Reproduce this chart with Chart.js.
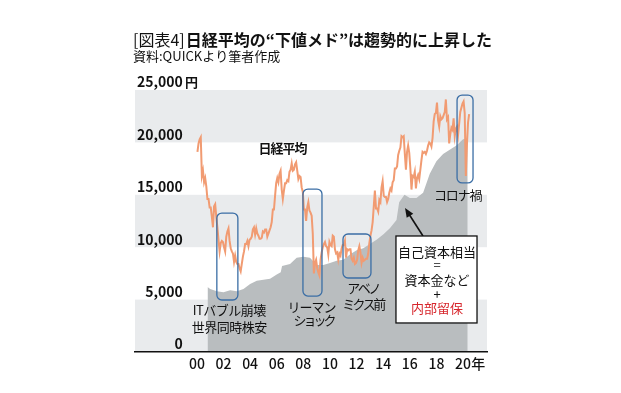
<!DOCTYPE html>
<html lang="ja">
<head>
<meta charset="utf-8">
<title>日経平均の下値メド</title>
<script src="https://cdn.jsdelivr.net/npm/chart.js@4.4.1/dist/chart.umd.min.js"></script>
<style>
  html, body { margin: 0; padding: 0; background: #fff; }
  #wrap { width: 621px; height: 393px; }
</style>
</head>
<body>
<div id="wrap"><canvas id="chart" width="621" height="393"></canvas></div>
<script>
// 日経平均 (円), one value per month, Jan 2000 - Jun 2020
const NIKKEI_START = 2000;
const nikkeiMonthly = [
    19100, 19900, 20300, 20500, 16800, 17300, 16200, 16600, 15800, 14600, 14600, 13800, // 2000
    13800, 12900, 11900, 13900, 14100, 12900, 11900, 10700, 9600, 10400, 10600, 10500,   // 2001
    10000, 9600, 11000, 11500, 11800, 10600, 9900, 9600, 9400, 8600, 9200, 8600,         // 2002
    8400, 8400, 8000, 7700, 8400, 9100, 9600, 10300, 10300, 10600, 10100, 10700,         // 2003
    10800, 11000, 11700, 11900, 11200, 11800, 11300, 11100, 10800, 10800, 10900, 11500,  // 2004
    11400, 11700, 11700, 11000, 11300, 11600, 11900, 12400, 13600, 13600, 14900, 16100,  // 2005
    16600, 16200, 17000, 17300, 15500, 14600, 15400, 16100, 16100, 16400, 16300, 17200,  // 2006
    17400, 18000, 17300, 17400, 17900, 18100, 17300, 16500, 16800, 16700, 15700, 15300,  // 2007
    13600, 13600, 12500, 13800, 14300, 13500, 13300, 13000, 11300, 7500, 8500, 8800,     // 2008
    8000, 7600, 7300, 8800, 9500, 10000, 10300, 10500, 10100, 10000, 9300, 10500,        // 2009
    10200, 10100, 11100, 11000, 9800, 9400, 9500, 8800, 9400, 9200, 9900, 10200,         // 2010
    10200, 10600, 9000, 9800, 9700, 9800, 9800, 8900, 8700, 9000, 8400, 8500,            // 2011
    8800, 9700, 10100, 9500, 8500, 9000, 8700, 8800, 8900, 8900, 9400, 10400,            // 2012
    11100, 11600, 12400, 13900, 15400, 13700, 13700, 13400, 14500, 14300, 15700, 16300,  // 2013
    14900, 14800, 14800, 14300, 14600, 15200, 15600, 15400, 16200, 16400, 17500, 17500,  // 2014
    17700, 18800, 19200, 19500, 20600, 20500, 20600, 18900, 17400, 19100, 19700, 19000,  // 2015
    17500, 15500, 16800, 16700, 17200, 15600, 16600, 16900, 16500, 17400, 18300, 19100,  // 2016
    19000, 19100, 18900, 19200, 19700, 20000, 19900, 19600, 20400, 22000, 22700, 22800,  // 2017
    23800, 22100, 21500, 22500, 22200, 22300, 22600, 22900, 24100, 22200, 22400, 19900,  // 2018
    20800, 21400, 21200, 22300, 20600, 21300, 21500, 20700, 21800, 22900, 23300, 23700,  // 2019
    23900, 22800, 16800, 19800, 21900, 22700                                             // 2020
];

// 自己資本相当 (book value)
const bookYears = [
    2000.8, 2001.0, 2001.5, 2002.0, 2002.5, 2003.0, 2003.5, 2004.0, 2004.5, 2005.0,
    2005.5, 2006.0, 2006.3, 2006.4, 2007.0, 2007.5, 2008.0, 2008.5, 2009.0, 2009.5,
    2010.0, 2010.5, 2011.0, 2011.5, 2012.0, 2012.5, 2013.0, 2013.5, 2014.0, 2014.5,
    2015.0, 2015.2, 2015.6, 2016.0, 2016.5, 2017.0, 2017.5, 2018.0, 2018.5, 2019.0,
    2019.5, 2020.0, 2020.35
];
const bookValues = [
    6200, 6000, 5800, 5700, 5900, 5800, 6000, 6500, 6800, 6900,
    7000, 7400, 7600, 8200, 8400, 9000, 9100, 9000, 8300, 8300,
    8500, 8700, 8800, 9300, 9700, 9900, 10300, 10700, 11200, 11800,
    12600, 14300, 15000, 14700, 14700, 15200, 17000, 18200, 18900, 19300,
    19700, 20300, 20400
];

// axes
const yTickValues = [0, 5000, 10000, 15000, 20000, 25000];
const xTickYears = [2000, 2002, 2004, 2006, 2008, 2010, 2012, 2014, 2016, 2018, 2020];
const YEAR_UNIT = '年';
const YEAR_UNIT_POS = 2021.15;
const bandRanges = [[0, 5000], [10000, 15000], [20000, 25000]];

// event boxes: [from year, to year, low, high]
const eventBoxes = [
    [2001.50, 2003.08, 4960, 13260],
    [2007.97, 2009.40, 5340, 15550],
    [2010.98, 2013.08, 7060, 11260],
    [2019.55, 2020.75, 16130, 24520]
];
// labels: [text, year, value, bold, letter spacing]
const eventLabels = [
    ['日経平均', 2006.39, 19500, true, -1],
    ['ITバブル崩壊', 2002.41, 4000, false, -0.5],
    ['世界同時株安', 2002.41, 2390, false, -0.5],
    ['リーマン', 2008.57, 4290, false, -1],
    ['ショック', 2008.65, 3050, false, -3],
    ['アベノ', 2012.41, 6110, false, -2.3],
    ['ミクス前', 2012.37, 4580, false, -2.7],
    ['コロナ禍', 2019.55, 14980, false, -1.2]
];
// 自己資本相当 box
const noteBox = [2014.96, 2021.05, 2770, 11070];
const noteLines = [
    ['自己資本相当', 9540, '#111'],
    ['=', 8300, '#111'],
    ['資本金など', 6870, '#111'],
    ['+', 5530, '#111'],
    ['内部留保', 4200, '#d7262c']
];
const NOTE_CENTER_YEAR = 2018.05;
const arrowFrom = [2016.99, 11070];
const arrowTo = [2015.64, 13740];

const FONT = '"Noto Sans CJK JP", "Noto Sans", sans-serif';
const BAND_COLOR = '#e9ebed';
const BOOK_COLOR = '#b9bdbf';
const LINE_COLOR = '#f19b72';
const BOX_COLOR = '#3b6ea5';

const nikkeiPoints = nikkeiMonthly.map((v, i) => ({ x: NIKKEI_START + (i + 0.5) / 12, y: v }));
const bookPoints = bookYears.map((x, i) => ({ x: x, y: bookValues[i] }));

const bandsPlugin = {
    id: 'bands',
    beforeDatasetsDraw(chart) {
        const { ctx, chartArea: a, scales: { y } } = chart;
        ctx.save();
        ctx.fillStyle = BAND_COLOR;
        bandRanges.forEach(([lo, hi]) => {
            const top = y.getPixelForValue(hi);
            const bot = y.getPixelForValue(lo);
            ctx.fillRect(a.left, top, a.right - a.left, bot - top);
        });
        ctx.restore();
    }
};

const notesPlugin = {
    id: 'notes',
    afterDatasetsDraw(chart) {
        const { ctx, scales: { x, y } } = chart;
        ctx.save();

        ctx.strokeStyle = BOX_COLOR;
        ctx.lineWidth = 1.3;
        eventBoxes.forEach(([from, to, lo, hi]) => {
            const x0 = x.getPixelForValue(from), x1 = x.getPixelForValue(to);
            const y0 = y.getPixelForValue(hi), y1 = y.getPixelForValue(lo);
            ctx.beginPath();
            ctx.roundRect(x0, y0, x1 - x0, y1 - y0, 5);
            ctx.stroke();
        });

        ctx.textAlign = 'center';
        ctx.textBaseline = 'middle';
        ctx.fillStyle = '#111';
        eventLabels.forEach(([text, yr, val, bold, spacing]) => {
            ctx.font = (bold ? 'bold ' : '') + '13px ' + FONT;
            ctx.letterSpacing = spacing + 'px';
            ctx.fillText(text, x.getPixelForValue(yr) - spacing / 2, y.getPixelForValue(val));
        });
        ctx.letterSpacing = '0px';

        // arrow towards the grey area
        const ax0 = x.getPixelForValue(arrowFrom[0]), ay0 = y.getPixelForValue(arrowFrom[1]);
        const ax1 = x.getPixelForValue(arrowTo[0]), ay1 = y.getPixelForValue(arrowTo[1]);
        const ang = Math.atan2(ay1 - ay0, ax1 - ax0);
        ctx.strokeStyle = '#111';
        ctx.lineWidth = 1.6;
        ctx.beginPath();
        ctx.moveTo(ax0, ay0);
        ctx.lineTo(ax1 - 6 * Math.cos(ang), ay1 - 6 * Math.sin(ang));
        ctx.stroke();
        ctx.beginPath();
        ctx.moveTo(ax1, ay1);
        ctx.lineTo(ax1 - 10 * Math.cos(ang - 0.4), ay1 - 10 * Math.sin(ang - 0.4));
        ctx.lineTo(ax1 - 10 * Math.cos(ang + 0.4), ay1 - 10 * Math.sin(ang + 0.4));
        ctx.closePath();
        ctx.fill();

        // note box
        const bx0 = x.getPixelForValue(noteBox[0]), bx1 = x.getPixelForValue(noteBox[1]);
        const by0 = y.getPixelForValue(noteBox[3]), by1 = y.getPixelForValue(noteBox[2]);
        ctx.fillStyle = '#fff';
        ctx.fillRect(bx0, by0, bx1 - bx0, by1 - by0);
        ctx.lineWidth = 1.3;
        ctx.strokeRect(bx0, by0, bx1 - bx0, by1 - by0);
        ctx.font = '13px ' + FONT;
        const cx = x.getPixelForValue(NOTE_CENTER_YEAR);
        noteLines.forEach(([text, val, color]) => {
            ctx.fillStyle = color;
            ctx.fillText(text, cx, y.getPixelForValue(val));
        });
        ctx.restore();
    },
    afterDraw(chart) {
        const { ctx, scales: { y } } = chart;
        ctx.save();
        ctx.fillStyle = '#111';
        ctx.textBaseline = 'middle';
        ctx.textAlign = 'left';
        ctx.font = '16px ' + FONT;
        const head = '[図表4]';
        ctx.fillText(head, 133, 40);
        const w = ctx.measureText(head).width;
        ctx.font = 'bold 16px ' + FONT;
        ctx.fillText('日経平均の“下値メド”は趨勢的に上昇した', 133 + w + 1, 40);
        ctx.font = '13px ' + FONT;
        ctx.fillText('資料:QUICKより筆者作成', 133, 56);
        // unit after the top tick
        ctx.font = 'bold 13px ' + FONT;
        ctx.fillText('円', 185, y.getPixelForValue(25000) - 8);
        ctx.restore();
    }
};

new Chart(document.getElementById('chart'), {
    type: 'line',
    data: {
        datasets: [{
            label: '日経平均',
            data: nikkeiPoints,
            borderColor: LINE_COLOR,
            borderWidth: 2,
            pointRadius: 0,
            tension: 0,
            fill: false,
            order: 0
        }, {
            label: '自己資本相当',
            data: bookPoints,
            borderWidth: 0,
            borderColor: BOOK_COLOR,
            backgroundColor: BOOK_COLOR,
            pointRadius: 0,
            fill: 'origin',
            order: 1
        }]
    },
    options: {
        responsive: false,
        animation: false,
        devicePixelRatio: 1,
        layout: { padding: { left: 135, top: 90, right: 134, bottom: 0 } },
        plugins: {
            legend: { display: false },
            tooltip: { enabled: false }
        },
        scales: {
            x: {
                type: 'linear',
                min: 1995.35,
                max: 2021.8,
                grid: { display: false, drawTicks: false },
                border: { display: true, color: '#111', width: 1.5, z: 1 },
                afterBuildTicks: (axis) => {
                    axis.ticks = xTickYears.map(v => ({ value: v })).concat({ value: YEAR_UNIT_POS });
                },
                afterFit: (axis) => { axis.height = 41; },
                ticks: {
                    z: 1,
                    autoSkip: false,
                    maxRotation: 0,
                    padding: 3,
                    color: '#111',
                    font: { family: FONT, size: 14, weight: '500' },
                    callback: (v) => v === YEAR_UNIT_POS ? YEAR_UNIT : String(v % 100).padStart(2, '0')
                }
            },
            y: {
                min: 0,
                max: 25000,
                grid: { display: false, drawTicks: false },
                border: { display: false },
                afterBuildTicks: (axis) => {
                    axis.ticks = yTickValues.map(v => ({ value: v }));
                },
                afterFit: (axis) => { axis.width = 0; },
                ticks: {
                    z: 1,
                    autoSkip: false,
                    mirror: true,
                    crossAlign: 'far',
                    padding: 2,
                    labelOffset: -8,
                    color: '#111',
                    font: { family: FONT, size: 14, weight: 'bold' },
                    callback: (v) => v.toLocaleString('en-US')
                }
            }
        }
    },
    plugins: [bandsPlugin, notesPlugin]
});
</script>
</body>
</html>
